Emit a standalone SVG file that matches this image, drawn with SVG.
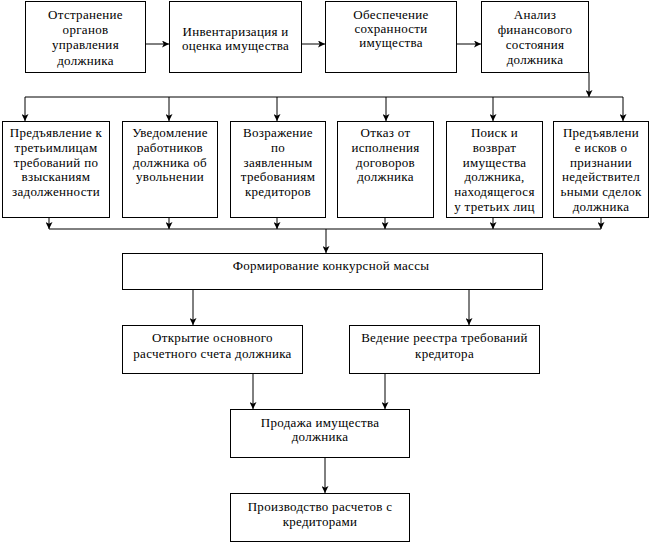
<svg xmlns="http://www.w3.org/2000/svg" width="650" height="542" viewBox="0 0 650 542">
<style>
.box{fill:#fff;stroke:#000;stroke-width:1}
.t{font-size:13px;letter-spacing:0.3px;text-anchor:middle;fill:#000}
.c{fill:none;stroke:#000;stroke-width:1}
</style>
<defs>
<marker id="ah" viewBox="0 0 8 8" refX="8" refY="4" markerWidth="7" markerHeight="7" orient="auto" markerUnits="userSpaceOnUse">
<path d="M0,0 L8,4 L0,8 L2,4 z" fill="#000"/>
</marker>
</defs>
<rect width="650" height="542" fill="#fff"/>
<g id="connectors">
<line class="c" x1="145" y1="44" x2="169" y2="44" marker-end="url(#ah)"/>
<line class="c" x1="302" y1="44" x2="325" y2="44" marker-end="url(#ah)"/>
<line class="c" x1="457" y1="44" x2="481" y2="44" marker-end="url(#ah)"/>
<line class="c" x1="589" y1="72" x2="589" y2="97" marker-end="url(#ah)"/>
<line class="c" x1="25" y1="97" x2="623" y2="97"/>
<line class="c" x1="25" y1="97" x2="25" y2="121" marker-end="url(#ah)"/>
<line class="c" x1="169" y1="97" x2="169" y2="121" marker-end="url(#ah)"/>
<line class="c" x1="277" y1="97" x2="277" y2="121" marker-end="url(#ah)"/>
<line class="c" x1="386" y1="97" x2="386" y2="121" marker-end="url(#ah)"/>
<line class="c" x1="493" y1="97" x2="493" y2="121" marker-end="url(#ah)"/>
<line class="c" x1="623" y1="97" x2="623" y2="121" marker-end="url(#ah)"/>
<line class="c" x1="49" y1="217" x2="49" y2="229" marker-end="url(#ah)"/>
<line class="c" x1="169" y1="217" x2="169" y2="229" marker-end="url(#ah)"/>
<line class="c" x1="277" y1="217" x2="277" y2="229" marker-end="url(#ah)"/>
<line class="c" x1="385" y1="217" x2="385" y2="229" marker-end="url(#ah)"/>
<line class="c" x1="493" y1="217" x2="493" y2="229" marker-end="url(#ah)"/>
<line class="c" x1="601" y1="217" x2="601" y2="229" marker-end="url(#ah)"/>
<line class="c" x1="49" y1="229" x2="601" y2="229"/>
<line class="c" x1="326" y1="229" x2="326" y2="253" marker-end="url(#ah)"/>
<line class="c" x1="193" y1="289" x2="193" y2="325" marker-end="url(#ah)"/>
<line class="c" x1="469" y1="289" x2="469" y2="325" marker-end="url(#ah)"/>
<line class="c" x1="253" y1="373" x2="253" y2="409" marker-end="url(#ah)"/>
<line class="c" x1="385" y1="373" x2="385" y2="409" marker-end="url(#ah)"/>
<line class="c" x1="325" y1="457" x2="325" y2="493" marker-end="url(#ah)"/>
</g>
<g font-family="Liberation Serif, Times New Roman, serif">
<g id="n1"><rect class="box" x="25.5" y="1.5" width="120" height="71"/>
<text class="t" x="85.5"><tspan x="85.5" y="19">Отстранение</tspan><tspan x="85.5" y="34">органов</tspan><tspan x="85.5" y="49">управления</tspan><tspan x="85.5" y="65">должника</tspan></text></g>
<g id="n2"><rect class="box" x="169.5" y="1.5" width="132" height="71"/>
<text class="t"><tspan x="235.5" y="36">Инвентаризация и</tspan><tspan x="235.5" y="50">оценка имущества</tspan></text></g>
<g id="n3"><rect class="box" x="325.5" y="1.5" width="131" height="71"/>
<text class="t"><tspan x="391" y="19">Обеспечение</tspan><tspan x="391" y="33">сохранности</tspan><tspan x="391" y="47">имущества</tspan></text></g>
<g id="n4"><rect class="box" x="481.5" y="1.5" width="107" height="71"/>
<text class="t"><tspan x="535" y="19">Анализ</tspan><tspan x="535" y="34">финансового</tspan><tspan x="535" y="49">состояния</tspan><tspan x="535" y="64">должника</tspan></text></g>
<g id="n5"><rect class="box" x="2.5" y="121.5" width="107" height="96"/>
<text class="t"><tspan x="56" y="137">Предъявление к</tspan><tspan x="56" y="152">третьимлицам</tspan><tspan x="56" y="167">требований по</tspan><tspan x="56" y="181">взысканиям</tspan><tspan x="56" y="196">задолженности</tspan></text></g>
<g id="n6"><rect class="box" x="122.5" y="121.5" width="95" height="96"/>
<text class="t"><tspan x="170" y="137">Уведомление</tspan><tspan x="170" y="152">работников</tspan><tspan x="170" y="167">должника об</tspan><tspan x="170" y="181">увольнении</tspan></text></g>
<g id="n7"><rect class="box" x="230.5" y="121.5" width="95" height="96"/>
<text class="t"><tspan x="278" y="137">Возражение</tspan><tspan x="278" y="152">по</tspan><tspan x="278" y="167">заявленным</tspan><tspan x="278" y="181">требованиям</tspan><tspan x="278" y="196">кредиторов</tspan></text></g>
<g id="n8"><rect class="box" x="337.5" y="121.5" width="96" height="96"/>
<text class="t"><tspan x="385.5" y="137">Отказ от</tspan><tspan x="385.5" y="152">исполнения</tspan><tspan x="385.5" y="167">договоров</tspan><tspan x="385.5" y="181">должника</tspan></text></g>
<g id="n9"><rect class="box" x="446.5" y="121.5" width="96" height="96"/>
<text class="t"><tspan x="494.5" y="137">Поиск и</tspan><tspan x="494.5" y="152">возврат</tspan><tspan x="494.5" y="167">имущества</tspan><tspan x="494.5" y="181">должника,</tspan><tspan x="494.5" y="196">находящегося</tspan><tspan x="494.5" y="211">у третьих лиц</tspan></text></g>
<g id="n10"><rect class="box" x="553.5" y="121.5" width="95" height="96"/>
<text class="t"><tspan x="601" y="137">Предъявлени</tspan><tspan x="601" y="152">е исков о</tspan><tspan x="601" y="167">признании</tspan><tspan x="601" y="181">недействител</tspan><tspan x="601" y="196">ьными сделок</tspan><tspan x="601" y="211">должника</tspan></text></g>
<g id="n11"><rect class="box" x="122.5" y="253.5" width="420" height="36"/>
<text class="t" x="331" y="270">Формирование конкурсной массы</text></g>
<g id="n12"><rect class="box" x="122.5" y="325.5" width="180" height="48"/>
<text class="t"><tspan x="212.5" y="342">Открытие основного</tspan><tspan x="212.5" y="358">расчетного счета должника</tspan></text></g>
<g id="n13"><rect class="box" x="349.5" y="325.5" width="190" height="48"/>
<text class="t"><tspan x="444.5" y="342">Ведение реестра требований</tspan><tspan x="444.5" y="358">кредитора</tspan></text></g>
<g id="n14"><rect class="box" x="230.5" y="409.5" width="179" height="48"/>
<text class="t"><tspan x="320" y="427">Продажа имущества</tspan><tspan x="320" y="441">должника</tspan></text></g>
<g id="n15"><rect class="box" x="230.5" y="493.5" width="179" height="48"/>
<text class="t"><tspan x="320" y="511">Производство расчетов с</tspan><tspan x="320" y="526">кредиторами</tspan></text></g>
</g>
</svg>
